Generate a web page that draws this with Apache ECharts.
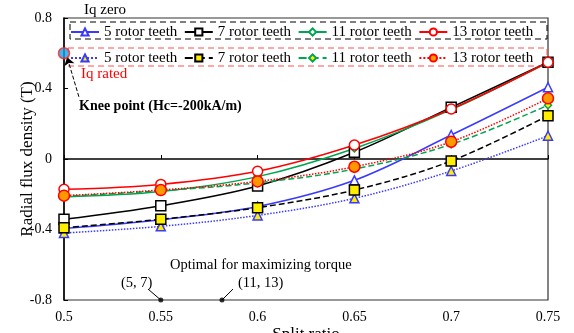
<!DOCTYPE html>
<html><head><meta charset="utf-8">
<script src="https://cdn.jsdelivr.net/npm/echarts@6/dist/echarts.min.js"></script>
<style>html,body{margin:0;padding:0;background:#fff}#c{width:574px;height:333px}</style>
</head><body><div id="c"></div>
<script>
const splitRatio = [0.5, 0.55, 0.6, 0.65, 0.7, 0.75];
const xTickLabels = ['0.5', '0.55', '0.6', '0.65', '0.7', '0.75'];
const yTickLabels = ['-0.8', '-0.4', '0', '0.4', '0.8'];
const teeth = ['5 rotor teeth', '7 rotor teeth', '11 rotor teeth', '13 rotor teeth'];
const iqZero5 = [-0.395, -0.345, -0.27, -0.121, 0.136, 0.407];
const iqZero7 = [-0.342, -0.265, -0.153, 0.038, 0.293, 0.549];
const iqZero11 = [-0.215, -0.185, -0.100, 0.060, 0.280, 0.549];
const iqZero13 = [-0.172, -0.144, -0.070, 0.079, 0.284, 0.549];
const iqRated5 = [-0.42, -0.382, -0.320, -0.223, -0.068, 0.132];
const iqRated7 = [-0.39, -0.342, -0.276, -0.176, -0.011, 0.246];
const iqRated11 = [-0.212, -0.180, -0.135, -0.057, 0.083, 0.305];
const iqRated13 = [-0.208, -0.176, -0.127, -0.044, 0.098, 0.344];
const kneePoint = [[0.5, 0.6]];
const optimalPoints = [[0.55, -0.8], [0.5816, -0.8]];

const F = 'Liberation Serif, Times New Roman, serif';
const pair = (ys) => splitRatio.map((x, i) => [x, ys[i]]);

function mk(name, data, lineColor, lineType, symbol, size, fill, z) {
  return {
    name: name, type: 'line', data: pair(data), smooth: 0.35,
    symbol: symbol, symbolSize: size, z: z,
    lineStyle: { color: lineColor, width: 1.5, type: lineType },
    itemStyle: { color: fill, borderColor: lineColor, borderWidth: 1.5 },
    emphasis: { disabled: true }
  };
}
const sfxZ = ' (Iq zero)', sfxR = ' (Iq rated)';
const series = [
  mk(teeth[0] + sfxZ, iqZero5, '#3a3aff', 'solid', 'triangle', 9, '#fff', 3),
  mk(teeth[1] + sfxZ, iqZero7, '#000', 'solid', 'rect', 10, '#fff', 3),
  mk(teeth[2] + sfxZ, iqZero11, '#00a550', 'solid', 'diamond', 7, '#fff', 3),
  mk(teeth[3] + sfxZ, iqZero13, '#ff0000', 'solid', 'circle', 10, '#fff', 3),
  mk(teeth[0] + sfxR, iqRated5, '#3a3aff', 'dotted', 'triangle', 9, '#ffee00', 4),
  mk(teeth[1] + sfxR, iqRated7, '#000', 'dashed', 'rect', 10, '#ffee00', 4),
  mk(teeth[2] + sfxR, iqRated11, '#00a550', 'dashed', 'diamond', 7, '#ffee00', 4),
  mk(teeth[3] + sfxR, iqRated13, '#ff0000', 'dotted', 'circle', 11, '#ff9900', 4),
  {
    type: 'scatter', data: kneePoint, symbolSize: 11, z: 10, clip: false,
    itemStyle: { color: '#1ea0e6', borderColor: '#ff2020', borderWidth: 1.5 },
    emphasis: { disabled: true },
    markLine: {
      silent: true, symbol: ['none', 'arrow'], symbolSize: 8,
      label: { show: false },
      lineStyle: { color: '#000', type: 'dashed', width: 1 },
      data: [[{ coord: [0.5077, 0.353] }, { coord: [0.5016, 0.578] }]]
    }
  },
  {
    type: 'scatter', data: optimalPoints, symbolSize: 5, z: 10, clip: false,
    itemStyle: { color: '#000' }, emphasis: { disabled: true },
    markLine: {
      silent: true, symbol: ['none', 'none'],
      label: { show: false },
      lineStyle: { color: '#000', type: 'solid', width: 1 },
      data: [
        [{ coord: [0.5434, -0.738] }, { coord: [0.55, -0.8] }],
        [{ coord: [0.5873, -0.738] }, { coord: [0.5816, -0.8] }]
      ]
    }
  }
];

function legendFor(suffix, top) {
  return {
    data: teeth.map(t => t + suffix), left: 70, top: top, padding: 0,
    itemWidth: 28, itemHeight: 9, itemGap: 6.5, selectedMode: false,
    formatter: (n) => n.replace(suffix, ''),
    textStyle: { fontFamily: F, fontSize: 15, color: '#000', width: 82, overflow: 'none' }
  };
}

const chart = echarts.init(document.getElementById('c'));
chart.setOption({
  animation: false,
  backgroundColor: '#fff',
  grid: { left: 64, right: 26, top: 18, bottom: 33, outerBoundsMode: 'none', containLabel: false,
    show: true, borderColor: '#333', borderWidth: 1.2, backgroundColor: 'transparent' },
  legend: [legendFor(sfxZ, 24.5), legendFor(sfxR, 50.5)],
  xAxis: {
    type: 'value', min: 0.5, max: 0.75, interval: 0.05,
    name: 'Split ratio', nameLocation: 'middle', nameGap: 26, nameMoveOverlap: false,
    nameTextStyle: { fontFamily: F, fontSize: 17, color: '#000' },
    axisLine: { show: true, lineStyle: { color: '#000', width: 1.5 } },
    axisTick: { show: true, inside: true, length: 4, lineStyle: { color: '#000' } },
    axisLabel: { fontFamily: F, fontSize: 14, color: '#000', margin: 10,
      formatter: (v) => xTickLabels[Math.round((v - 0.5) / 0.05)] },
    splitLine: { show: false }
  },
  yAxis: {
    type: 'value', min: -0.8, max: 0.8, interval: 0.4,
    name: 'Radial flux density (T)', nameLocation: 'middle', nameGap: 28, nameMoveOverlap: false,
    nameTextStyle: { fontFamily: F, fontSize: 17, color: '#000' },
    axisLine: { show: true, lineStyle: { color: '#000', width: 1.5 } },
    axisTick: { show: true, inside: true, length: 4, lineStyle: { color: '#000' } },
    axisLabel: { fontFamily: F, fontSize: 14, color: '#000', margin: 12,
      formatter: (v) => yTickLabels[Math.round((v + 0.8) / 0.4)] },
    splitLine: { show: false }
  },
  graphic: [
    { type: 'rect', shape: { x: 70, y: 22, width: 477, height: 17 }, z: 1,
      style: { fill: 'none', stroke: '#000', lineWidth: 1, lineDash: [6, 4] } },
    { type: 'rect', shape: { x: 68, y: 48, width: 479, height: 18 }, z: 1,
      style: { fill: 'none', stroke: '#ff5050', lineWidth: 1, lineDash: [6, 4] } },
    { type: 'text', left: 84, top: 3, z: 20,
      style: { text: 'Iq zero', font: '15px ' + F, fill: '#000' } },
    { type: 'text', left: 81, top: 67, z: 20,
      style: { text: 'Iq rated', font: '15px ' + F, fill: '#ff0000' } },
    { type: 'text', left: 79, top: 99, z: 20,
      style: { text: 'Knee point (Hc=-200kA/m)', font: 'bold 14px ' + F, fill: '#000' } },
    { type: 'text', left: 170, top: 258, z: 20,
      style: { text: 'Optimal for maximizing torque', font: '14.5px ' + F, fill: '#000' } },
    { type: 'text', left: 121, top: 276, z: 20,
      style: { text: '(5, 7)', font: '14.5px ' + F, fill: '#000' } },
    { type: 'text', left: 238, top: 276, z: 20,
      style: { text: '(11, 13)', font: '14.5px ' + F, fill: '#000' } }
  ],
  series: series
});
</script>
</body></html>
